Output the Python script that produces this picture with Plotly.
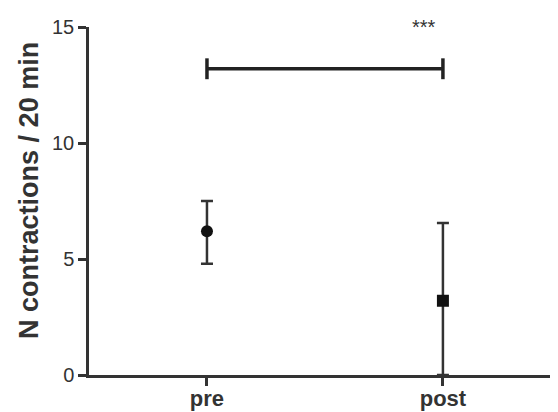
import plotly.graph_objects as go

categories = ["pre", "post"]
x_pos = [0, 1]
means = [6.2, 3.2]
err_plus = [1.3, 3.35]
err_minus = [1.4, 3.2]
symbols = ["circle", "square"]
y_ticks = [0, 5, 10, 15]
y_title = "N contractions / 20 min"
sig_y = 13.2
sig_cap = 0.45
sig_text = "***"
sig_text_x = 0.92
sig_text_y = 15.0

fig = go.Figure()
for i in range(2):
    fig.add_trace(go.Scatter(
        x=[x_pos[i]], y=[means[i]], mode="markers",
        marker=dict(symbol=symbols[i], size=12, color="#111111"),
        error_y=dict(type="data", symmetric=False, array=[err_plus[i]], arrayminus=[err_minus[i]],
                     color="#333333", thickness=2.5, width=6),
        showlegend=False, cliponaxis=False))

fig.add_trace(go.Scatter(
    x=x_pos, y=[sig_y, sig_y], mode="lines",
    line=dict(color="#222222", width=3.5),
    error_y=dict(type="constant", value=sig_cap, color="#222222", thickness=3.5, width=0),
    showlegend=False))

fig.add_annotation(x=sig_text_x, y=sig_text_y, text=sig_text, showarrow=False,
                   font=dict(family="Arial", size=20, color="#333333"))

fig.add_annotation(xref="paper", yref="paper", x=0, y=0.529, xanchor="center", yanchor="middle",
                   xshift=-60, textangle=-90, showarrow=False,
                   text="<b>" + y_title + "</b>",
                   font=dict(family="Arial", size=27, color="#333333"))

fig.update_layout(
    width=550, height=404,
    margin=dict(l=81, r=3, t=19, b=37),
    paper_bgcolor="white", plot_bgcolor="white",
    font=dict(family="Arial", color="#333333"),
    xaxis=dict(range=[-0.5, 1.475], tickvals=x_pos,
               ticktext=["<b>" + c + "</b>" for c in categories],
               showline=True, linecolor="#333333", linewidth=2.5,
               ticks="outside", ticklen=8, tickwidth=2.5, tickcolor="#333333",
               ticklabelstandoff=-6,
               showgrid=False, zeroline=False, automargin=False,
               tickfont=dict(family="Arial", size=22, color="#333333")),
    yaxis=dict(range=[0, 15], tickvals=y_ticks,
               showline=True, linecolor="#333333", linewidth=2.5,
               ticks="outside", ticklen=8, tickwidth=2.5, tickcolor="#333333",
               showgrid=False, zeroline=False, automargin=False,
               tickfont=dict(family="Arial", size=20, color="#333333")),
)

fig.write_html("out.html")
